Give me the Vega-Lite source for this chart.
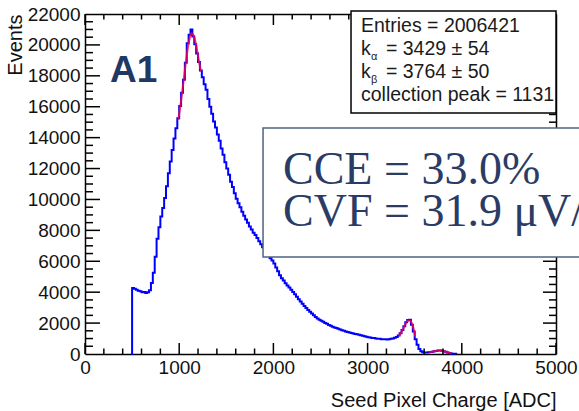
{
  "$schema": "https://vega.github.io/schema/vega-lite/v6.json",
  "width": 471,
  "height": 340,
  "autosize": "none",
  "padding": {"left": 85, "top": 14, "right": 23, "bottom": 57},
  "background": "white",
  "config": {
    "view": {"stroke": null},
    "axis": {
      "grid": false, "domainColor": "#000", "domainWidth": 1.5,
      "labelFont": "Liberation Sans", "labelFontSize": 19, "labelColor": "#111",
      "titleFont": "Liberation Sans", "titleFontSize": 20, "titleFontWeight": "normal", "titleColor": "#111",
      "labelFlush": false, "labelOverlap": false
    }
  },
  "datasets": {
    "xmajor": [{"v": 0}, {"v": 1000}, {"v": 2000}, {"v": 3000}, {"v": 4000}, {"v": 5000}],
    "xminor": [{"v": 200}, {"v": 400}, {"v": 600}, {"v": 800}, {"v": 1200}, {"v": 1400}, {"v": 1600}, {"v": 1800}, {"v": 2200}, {"v": 2400},
      {"v": 2600}, {"v": 2800}, {"v": 3200}, {"v": 3400}, {"v": 3600}, {"v": 3800}, {"v": 4200}, {"v": 4400}, {"v": 4600}, {"v": 4800}],
    "ymajor": [{"v": 2000}, {"v": 4000}, {"v": 6000}, {"v": 8000}, {"v": 10000}, {"v": 12000}, {"v": 14000}, {"v": 16000}, {"v": 18000}, {"v": 20000}],
    "yminor": [{"v": 500}, {"v": 1000}, {"v": 1500}, {"v": 2500}, {"v": 3000}, {"v": 3500}, {"v": 4500}, {"v": 5000}, {"v": 5500}, {"v": 6500},
      {"v": 7000}, {"v": 7500}, {"v": 8500}, {"v": 9000}, {"v": 9500}, {"v": 10500}, {"v": 11000}, {"v": 11500}, {"v": 12500}, {"v": 13000},
      {"v": 13500}, {"v": 14500}, {"v": 15000}, {"v": 15500}, {"v": 16500}, {"v": 17000}, {"v": 17500}, {"v": 18500}, {"v": 19000}, {"v": 19500},
      {"v": 20500}, {"v": 21000}, {"v": 21500}],
    "hist": [
      {"adc": 498, "events": 0}, {"adc": 500, "events": 4270}, {"adc": 520, "events": 4230}, {"adc": 540, "events": 4150},
      {"adc": 560, "events": 4100}, {"adc": 580, "events": 4060}, {"adc": 600, "events": 4000}, {"adc": 620, "events": 4010},
      {"adc": 640, "events": 3950}, {"adc": 660, "events": 3990}, {"adc": 680, "events": 4120}, {"adc": 700, "events": 4600},
      {"adc": 720, "events": 5250}, {"adc": 740, "events": 6300}, {"adc": 760, "events": 7450}, {"adc": 780, "events": 8200},
      {"adc": 800, "events": 8900}, {"adc": 820, "events": 9450}, {"adc": 840, "events": 10100}, {"adc": 860, "events": 10850},
      {"adc": 880, "events": 11700}, {"adc": 900, "events": 12450}, {"adc": 920, "events": 13200}, {"adc": 940, "events": 13950},
      {"adc": 960, "events": 14600}, {"adc": 980, "events": 15250}, {"adc": 1000, "events": 16050}, {"adc": 1020, "events": 16900},
      {"adc": 1040, "events": 17750}, {"adc": 1060, "events": 18850}, {"adc": 1080, "events": 20100}, {"adc": 1100, "events": 20650},
      {"adc": 1120, "events": 21000}, {"adc": 1140, "events": 20550}, {"adc": 1160, "events": 20050}, {"adc": 1180, "events": 19450},
      {"adc": 1200, "events": 18900}, {"adc": 1220, "events": 18350}, {"adc": 1240, "events": 17900}, {"adc": 1260, "events": 17450},
      {"adc": 1280, "events": 17100}, {"adc": 1300, "events": 16500}, {"adc": 1320, "events": 16000}, {"adc": 1340, "events": 15550},
      {"adc": 1360, "events": 15050}, {"adc": 1380, "events": 14650}, {"adc": 1400, "events": 14200}, {"adc": 1420, "events": 13800},
      {"adc": 1440, "events": 13300}, {"adc": 1460, "events": 12900}, {"adc": 1480, "events": 12400}, {"adc": 1500, "events": 12000},
      {"adc": 1520, "events": 11600}, {"adc": 1540, "events": 11150}, {"adc": 1560, "events": 10800}, {"adc": 1580, "events": 10400},
      {"adc": 1600, "events": 10050}, {"adc": 1620, "events": 9750}, {"adc": 1640, "events": 9500}, {"adc": 1660, "events": 9200},
      {"adc": 1680, "events": 8950}, {"adc": 1700, "events": 8700}, {"adc": 1720, "events": 8500}, {"adc": 1740, "events": 8250},
      {"adc": 1760, "events": 8050}, {"adc": 1780, "events": 7850}, {"adc": 1800, "events": 7700}, {"adc": 1820, "events": 7500},
      {"adc": 1840, "events": 7300}, {"adc": 1860, "events": 7100}, {"adc": 1880, "events": 6900}, {"adc": 1900, "events": 6700},
      {"adc": 1920, "events": 6550}, {"adc": 1940, "events": 6350}, {"adc": 1960, "events": 6200}, {"adc": 1980, "events": 6050},
      {"adc": 2000, "events": 5850}, {"adc": 2020, "events": 5600}, {"adc": 2040, "events": 5350}, {"adc": 2060, "events": 5100},
      {"adc": 2080, "events": 4900}, {"adc": 2100, "events": 4750}, {"adc": 2120, "events": 4580}, {"adc": 2140, "events": 4440},
      {"adc": 2160, "events": 4300}, {"adc": 2180, "events": 4160}, {"adc": 2200, "events": 4010}, {"adc": 2220, "events": 3870},
      {"adc": 2240, "events": 3700}, {"adc": 2260, "events": 3550}, {"adc": 2280, "events": 3400}, {"adc": 2300, "events": 3250},
      {"adc": 2320, "events": 3100}, {"adc": 2340, "events": 2980}, {"adc": 2360, "events": 2850}, {"adc": 2380, "events": 2740},
      {"adc": 2400, "events": 2620}, {"adc": 2420, "events": 2500}, {"adc": 2440, "events": 2400}, {"adc": 2460, "events": 2300},
      {"adc": 2480, "events": 2210}, {"adc": 2500, "events": 2150}, {"adc": 2520, "events": 2080}, {"adc": 2540, "events": 2010},
      {"adc": 2560, "events": 1950}, {"adc": 2580, "events": 1880}, {"adc": 2600, "events": 1830}, {"adc": 2620, "events": 1770},
      {"adc": 2640, "events": 1720}, {"adc": 2660, "events": 1680}, {"adc": 2680, "events": 1630}, {"adc": 2700, "events": 1580},
      {"adc": 2720, "events": 1540}, {"adc": 2740, "events": 1500}, {"adc": 2760, "events": 1460}, {"adc": 2780, "events": 1430},
      {"adc": 2800, "events": 1390}, {"adc": 2820, "events": 1360}, {"adc": 2840, "events": 1320}, {"adc": 2860, "events": 1300},
      {"adc": 2880, "events": 1270}, {"adc": 2900, "events": 1240}, {"adc": 2920, "events": 1210}, {"adc": 2940, "events": 1180},
      {"adc": 2960, "events": 1150}, {"adc": 2980, "events": 1120}, {"adc": 3000, "events": 1090}, {"adc": 3020, "events": 1070},
      {"adc": 3040, "events": 1040}, {"adc": 3060, "events": 1030}, {"adc": 3080, "events": 1010}, {"adc": 3100, "events": 990},
      {"adc": 3120, "events": 980}, {"adc": 3140, "events": 960}, {"adc": 3160, "events": 950}, {"adc": 3180, "events": 960},
      {"adc": 3200, "events": 940}, {"adc": 3220, "events": 950}, {"adc": 3240, "events": 980}, {"adc": 3260, "events": 1000},
      {"adc": 3280, "events": 1050}, {"adc": 3300, "events": 1100}, {"adc": 3320, "events": 1200}, {"adc": 3340, "events": 1350},
      {"adc": 3360, "events": 1550}, {"adc": 3380, "events": 1800}, {"adc": 3400, "events": 2050}, {"adc": 3420, "events": 2200},
      {"adc": 3440, "events": 2220}, {"adc": 3460, "events": 1900}, {"adc": 3480, "events": 1450}, {"adc": 3500, "events": 950},
      {"adc": 3520, "events": 600}, {"adc": 3540, "events": 330}, {"adc": 3560, "events": 180}, {"adc": 3580, "events": 110},
      {"adc": 3600, "events": 90}, {"adc": 3620, "events": 100}, {"adc": 3640, "events": 110}, {"adc": 3660, "events": 130},
      {"adc": 3680, "events": 150}, {"adc": 3700, "events": 170}, {"adc": 3720, "events": 200}, {"adc": 3740, "events": 220},
      {"adc": 3760, "events": 230}, {"adc": 3780, "events": 210}, {"adc": 3800, "events": 180}, {"adc": 3820, "events": 140},
      {"adc": 3840, "events": 90}, {"adc": 3860, "events": 60}, {"adc": 3880, "events": 30}, {"adc": 3900, "events": 20},
      {"adc": 3920, "events": 10}, {"adc": 3940, "events": 0}
    ],
    "fit": [
      {"seg": "peak", "adc": 990, "events": 15150}, {"seg": "peak", "adc": 1010, "events": 15950}, {"seg": "peak", "adc": 1030, "events": 16850},
      {"seg": "peak", "adc": 1050, "events": 17850}, {"seg": "peak", "adc": 1070, "events": 18850}, {"seg": "peak", "adc": 1090, "events": 19750},
      {"seg": "peak", "adc": 1110, "events": 20400}, {"seg": "peak", "adc": 1130, "events": 20750}, {"seg": "peak", "adc": 1150, "events": 20650},
      {"seg": "peak", "adc": 1170, "events": 20250}, {"seg": "peak", "adc": 1190, "events": 19650}, {"seg": "peak", "adc": 1210, "events": 18950},
      {"seg": "peak", "adc": 1230, "events": 18300},
      {"seg": "ka", "adc": 3330, "events": 1180}, {"seg": "ka", "adc": 3350, "events": 1330}, {"seg": "ka", "adc": 3370, "events": 1540},
      {"seg": "ka", "adc": 3390, "events": 1790}, {"seg": "ka", "adc": 3410, "events": 2010}, {"seg": "ka", "adc": 3430, "events": 2150},
      {"seg": "ka", "adc": 3450, "events": 2160}, {"seg": "ka", "adc": 3470, "events": 1980}, {"seg": "ka", "adc": 3490, "events": 1600},
      {"seg": "ka", "adc": 3505, "events": 1150},
      {"seg": "kb", "adc": 3650, "events": 120}, {"seg": "kb", "adc": 3670, "events": 135}, {"seg": "kb", "adc": 3690, "events": 155},
      {"seg": "kb", "adc": 3710, "events": 175}, {"seg": "kb", "adc": 3730, "events": 200}, {"seg": "kb", "adc": 3750, "events": 220},
      {"seg": "kb", "adc": 3770, "events": 230}, {"seg": "kb", "adc": 3790, "events": 220}, {"seg": "kb", "adc": 3810, "events": 195},
      {"seg": "kb", "adc": 3830, "events": 155}, {"seg": "kb", "adc": 3850, "events": 110}, {"seg": "kb", "adc": 3870, "events": 70},
      {"seg": "kb", "adc": 3890, "events": 35}
    ],
    "statsbox": [{"x1": 2824, "x2": 5000, "y1": 22194, "y2": 15594}],
    "ccebox": [{"x1": 1890, "x2": 5400, "y1": 14624, "y2": 6276}],
    "a1": [{"x": 265, "y": 17600, "t": "A1"}],
    "cce": [{"x": 2102, "y": 11000, "t": "CCE = 33.0%"}, {"x": 2102, "y": 8282, "t": "CVF = 31.9 μV/e⁻"}],
    "stats": [
      {"x": 2930, "y": 20835, "t": "Entries = 2006421"},
      {"x": 2930, "y": 19347, "t": "k"},
      {"x": 3195, "y": 19347, "t": "= 3429 ± 54"},
      {"x": 2930, "y": 17859, "t": "k"},
      {"x": 3195, "y": 17859, "t": "= 3764 ± 50"},
      {"x": 2930, "y": 16371, "t": "collection peak = 1131"}
    ],
    "subs": [
      {"x": 3036, "y": 19023, "t": "α"},
      {"x": 3036, "y": 17535, "t": "β"}
    ]
  },
  "resolve": {"axis": {"x": "independent", "y": "independent"}},
  "layer": [
    {
      "data": {"name": "hist"},
      "mark": {"type": "line", "interpolate": "step-after", "color": "#0000ff", "strokeWidth": 2},
      "encoding": {
        "x": {"field": "adc", "type": "quantitative", "scale": {"domain": [0, 5000], "nice": false, "zero": false},
          "axis": {"orient": "bottom", "values": [0, 1000, 2000, 3000, 4000, 5000], "format": "d", "ticks": false, "domain": true,
            "labelPadding": 4, "title": "Seed Pixel Charge [ADC]", "titleAnchor": "end", "titlePadding": 13}},
        "y": {"field": "events", "type": "quantitative", "scale": {"domain": [0, 22000], "nice": false},
          "axis": {"orient": "left", "values": [0, 2000, 4000, 6000, 8000, 10000, 12000, 14000, 16000, 18000, 20000, 22000], "format": "d",
            "ticks": false, "domain": true, "labelPadding": 5,
            "title": "Events", "titleAnchor": "end", "titlePadding": 2}}
      }
    },
    {
      "data": {"name": "fit"},
      "mark": {"type": "line", "interpolate": "monotone", "color": "#ff0040", "strokeWidth": 2, "opacity": 0.8},
      "encoding": {
        "x": {"field": "adc", "type": "quantitative",
          "axis": {"orient": "top", "values": [0, 5000], "ticks": false, "labels": false, "domain": true, "title": null}},
        "y": {"field": "events", "type": "quantitative",
          "axis": {"orient": "right", "values": [0, 22000], "ticks": false, "labels": false, "domain": true, "title": null}},
        "detail": {"field": "seg"}
      }
    },
    {
      "data": {"name": "xmajor"},
      "mark": {"type": "rule", "color": "#000", "strokeWidth": 1.5},
      "encoding": {"x": {"field": "v", "type": "quantitative", "axis": null}, "y": {"datum": 0, "type": "quantitative", "axis": null}, "y2": {"datum": 712}}
    },
    {
      "data": {"name": "xmajor"},
      "mark": {"type": "rule", "color": "#000", "strokeWidth": 1.5},
      "encoding": {"x": {"field": "v", "type": "quantitative", "axis": null}, "y": {"datum": 22000, "type": "quantitative", "axis": null}, "y2": {"datum": 21288}}
    },
    {
      "data": {"name": "xminor"},
      "mark": {"type": "rule", "color": "#000", "strokeWidth": 1.5},
      "encoding": {"x": {"field": "v", "type": "quantitative", "axis": null}, "y": {"datum": 0, "type": "quantitative", "axis": null}, "y2": {"datum": 356}}
    },
    {
      "data": {"name": "xminor"},
      "mark": {"type": "rule", "color": "#000", "strokeWidth": 1.5},
      "encoding": {"x": {"field": "v", "type": "quantitative", "axis": null}, "y": {"datum": 22000, "type": "quantitative", "axis": null}, "y2": {"datum": 21644}}
    },
    {
      "data": {"name": "ymajor"},
      "mark": {"type": "rule", "color": "#000", "strokeWidth": 1.5},
      "encoding": {"y": {"field": "v", "type": "quantitative", "axis": null}, "x": {"datum": 0, "type": "quantitative", "axis": null}, "x2": {"datum": 159}}
    },
    {
      "data": {"name": "ymajor"},
      "mark": {"type": "rule", "color": "#000", "strokeWidth": 1.5},
      "encoding": {"y": {"field": "v", "type": "quantitative", "axis": null}, "x": {"datum": 5000, "type": "quantitative", "axis": null}, "x2": {"datum": 4862}}
    },
    {
      "data": {"name": "yminor"},
      "mark": {"type": "rule", "color": "#000", "strokeWidth": 1.5},
      "encoding": {"y": {"field": "v", "type": "quantitative", "axis": null}, "x": {"datum": 0, "type": "quantitative", "axis": null}, "x2": {"datum": 85}}
    },
    {
      "data": {"name": "yminor"},
      "mark": {"type": "rule", "color": "#000", "strokeWidth": 1.5},
      "encoding": {"y": {"field": "v", "type": "quantitative", "axis": null}, "x": {"datum": 5000, "type": "quantitative", "axis": null}, "x2": {"datum": 4926}}
    },
    {
      "data": {"name": "statsbox"},
      "mark": {"type": "rect", "fill": "white", "stroke": "#000", "strokeWidth": 1.5},
      "encoding": {
        "x": {"field": "x1", "type": "quantitative", "axis": null},
        "x2": {"field": "x2"},
        "y": {"field": "y1", "type": "quantitative", "axis": null},
        "y2": {"field": "y2"}
      }
    },
    {
      "data": {"name": "ccebox"},
      "mark": {"type": "rect", "fill": "white", "stroke": "#4f6283", "strokeWidth": 1.5},
      "encoding": {
        "x": {"field": "x1", "type": "quantitative", "axis": null},
        "x2": {"field": "x2"},
        "y": {"field": "y1", "type": "quantitative", "axis": null},
        "y2": {"field": "y2"}
      }
    },
    {
      "data": {"name": "a1"},
      "mark": {"type": "text", "align": "left", "baseline": "alphabetic", "font": "Liberation Sans", "fontWeight": "bold", "fontSize": 37, "color": "#1f3864"},
      "encoding": {
        "x": {"field": "x", "type": "quantitative", "axis": null},
        "y": {"field": "y", "type": "quantitative", "axis": null},
        "text": {"field": "t"}
      }
    },
    {
      "data": {"name": "cce"},
      "mark": {"type": "text", "align": "left", "baseline": "alphabetic", "font": "Liberation Serif", "fontSize": 46, "color": "#2a3c66"},
      "encoding": {
        "x": {"field": "x", "type": "quantitative", "axis": null},
        "y": {"field": "y", "type": "quantitative", "axis": null},
        "text": {"field": "t"}
      }
    },
    {
      "data": {"name": "stats"},
      "mark": {"type": "text", "align": "left", "baseline": "alphabetic", "font": "Liberation Sans", "fontSize": 19.5, "color": "#1a1a1a"},
      "encoding": {
        "x": {"field": "x", "type": "quantitative", "axis": null},
        "y": {"field": "y", "type": "quantitative", "axis": null},
        "text": {"field": "t"}
      }
    },
    {
      "data": {"name": "subs"},
      "mark": {"type": "text", "align": "left", "baseline": "alphabetic", "font": "Liberation Sans", "fontSize": 11, "color": "#1a1a1a"},
      "encoding": {
        "x": {"field": "x", "type": "quantitative", "axis": null},
        "y": {"field": "y", "type": "quantitative", "axis": null},
        "text": {"field": "t"}
      }
    }
  ]
}
